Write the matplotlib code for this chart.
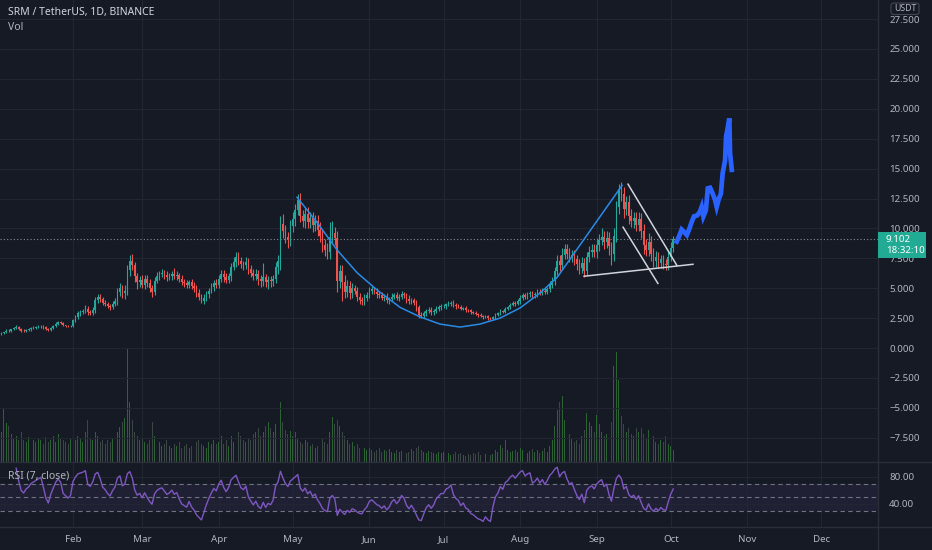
import datetime as dt
import numpy as np
import matplotlib
matplotlib.use('Agg')
import matplotlib.pyplot as plt
import matplotlib.dates as mdates
from matplotlib.patches import FancyBboxPatch, Rectangle
from matplotlib.lines import Line2D

plt.rcParams['font.family'] = ['Noto Sans', 'DejaVu Sans']

BG = '#161a25'
GRID = '#222631'
TXT = '#b2b5be'
UP = '#26a69a'
DOWN = '#ef5350'

# daily closes, 2021-01-02 .. 2021-10-02
close_jan = [1.15, 1.25, 1.3, 1.45, 1.4, 1.55, 1.65, 1.75, 1.6, 1.45, 1.4, 1.5, 1.55, 1.65, 1.7,
             1.75, 1.8, 1.85, 1.75, 1.6, 1.5, 1.65, 1.8, 2.0, 2.15, 2.1, 1.9, 1.85, 1.8, 1.85]
close_feb = [2.3, 2.6, 2.9, 3.0, 3.1, 3.3, 3.0, 2.95, 3.2, 4.0, 4.3, 4.1, 3.8, 3.7, 3.55, 3.45,
             3.7, 3.9, 4.7, 5.0, 4.6, 4.8, 6.5, 7.3, 6.9, 6.0, 5.5, 5.7]
close_mar = [5.3, 5.8, 5.4, 5.0, 4.7, 5.6, 6.0, 6.2, 6.3, 6.1, 5.9, 6.0, 6.2, 6.0, 6.1, 5.8,
             5.5, 5.4, 5.3, 5.5, 5.2, 5.0, 4.6, 4.3, 3.95, 4.2, 4.5, 4.8, 5.1, 5.4, 5.3]
close_apr = [5.8, 6.2, 5.9, 5.7, 6.0, 6.8, 7.2, 7.6, 7.3, 7.0, 6.9, 7.2, 6.6, 6.3, 6.0, 6.2,
             5.8, 5.6, 5.9, 5.5, 5.7, 5.6, 5.8, 6.8, 7.3, 10.4, 9.8, 9.3, 9.0, 10.2]
close_may = [10.8, 11.5, 12.4, 11.0, 10.6, 11.2, 10.5, 10.9, 10.3, 10.6, 9.9, 9.4, 8.6, 8.2, 8.0,
             9.3, 9.6, 9.2, 5.6, 6.4, 5.5, 4.7, 5.2, 4.6, 5.0, 4.8, 4.3, 4.0, 3.9, 4.2, 4.4]
close_jun = [4.8, 4.9, 4.7, 4.5, 4.4, 4.2, 4.3, 4.0, 4.1, 4.3, 4.4, 4.2, 4.3, 4.5, 4.4, 4.1,
             3.9, 4.0, 3.8, 3.4, 2.8, 2.7, 2.9, 3.1, 3.2, 3.0, 3.1, 3.3, 3.4, 3.5]
close_jul = [3.5, 3.65, 3.7, 3.8, 3.6, 3.5, 3.45, 3.3, 3.35, 3.2, 3.15, 3.0, 2.95, 2.85, 2.75,
             2.7, 2.6, 2.65, 2.5, 2.4, 2.6, 2.8, 2.9, 3.1, 3.05, 3.3, 3.4, 3.6, 3.75, 3.7, 3.9]
close_aug = [4.2, 4.4, 4.3, 4.5, 4.6, 4.4, 4.5, 4.7, 4.6, 4.8, 4.7, 4.9, 5.3, 5.6, 6.4, 7.3,
             6.9, 7.8, 8.3, 7.9, 7.6, 7.8, 7.4, 7.0, 6.7, 7.1, 6.4, 7.6, 8.0, 8.2, 8.0]
close_sep = [8.6, 9.0, 9.3, 8.9, 9.2, 8.5, 7.9, 9.4, 11.8, 13.3, 12.9, 11.6, 12.2, 11.0, 10.6,
             10.9, 10.3, 10.8, 9.8, 8.6, 8.2, 8.9, 7.9, 7.3, 7.6, 7.1, 7.4, 7.0, 6.9, 7.6]
close_oct = [8.4, 9.102]

# wick sizes above / below the body
wick_up = [.08, .1, .05, .12, .1, .08, .1, .15, .05, .08, .1, .06, .1, .08, .1, .06, .1, .08, .05, .1,
           .08, .1, .12, .15, .12, .08, .1, .06, .08, .1,
           .1, .15, .2, .15, .2, .3, .2, .15, .2, .3, .25, .2, .15, .2, .15, .1, .2, .25, .3, .4,
           .3, .5, .4, .5, .6, .3, .3, .3,
           .4, .3, .3, .4, .3, .3, .35, .2, .3, .2, .3, .25, .2, .5, .3, .2, .3, .25, .3, .2,
           .3, .3, .25, .3, .2, .3, .3, .25, .3, .3, .4,
           .3, .3, .3, .4, .3, .3, .4, .4, .4, .3, .3, .4, .3, .3, .3, .4, .3, .3, 1.2, .3,
           .3, .3, .3, .4, .5, .6, .8, .5, .4, .5,
           .6, .5, .5, .6, .5, .5, .6, .5, .5, .5, .5, .6, .5, .5, .6, 1.2, 1.0, .5, .6, .5,
           .5, .6, .5, .4, .4, .3, .3, .3, .3, .3, .3,
           .3, .3, .2, .3, .2, .3, .2, .3, .2, .3, .2, .3, .2, .3, .2, .2, .3, .2, .2, .2,
           .2, .2, .2, .2, .2, .2, .2, .2, .2, .2,
           .2, .15, .2, .15, .2, .15, .2, .15, .1, .15, .1, .15, .1, .15, .1, .15, .1, .1, .15, .1,
           .1, .15, .1, .15, .1, .15, .1, .15, .2, .15, .2,
           .2, .2, .2, .2, .2, .2, .2, .2, .2, .2, .2, .2, .3, .3, .4, .5, .5, .6, .4, .4,
           .5, .4, .4, .4, .4, .5, .4, .4, .5, .5, .5,
           .6, .5, .7, .5, .6, .5, .4, .6, .5, .4, .6, .6, .5, .6, .6, .5, .5, .6, .5, .6,
           .5, .7, .5, .5, .5, .4, .4, .4, .4, .5,
           .5, .3]
wick_dn = [.05, .08, .1, .06, .1, .08, .06, .1, .12, .1, .08, .06, .08, .1, .06, .08, .05, .1, .12, .1,
           .08, .06, .1, .08, .1, .12, .1, .08, .06, .08,
           .1, .1, .15, .2, .15, .2, .25, .15, .2, .3, .2, .25, .2, .15, .2, .25, .15, .2, .3, .35,
           .4, .5, .4, .5, .4, .5, .6, .4,
           .3, .4, .3, .3, .4, .3, .2, .3, .25, .3, .3, .2, .3, .25, .3, .3, .2, .3, .25, .3,
           .3, .35, .3, .3, .2, .3, .25, .3, .2, .3, .3,
           .3, .3, .4, .3, .3, .4, .3, .4, .4, .3, .4, .3, .4, .4, .3, .3, .5, .5, .4, .4,
           .6, .5, .4, .4, .6, .8, .6, .5, .6, .5,
           .5, .6, .4, .5, .5, .6, .5, .5, .6, .5, .5, .5, .6, .5, .6, .6, .5, .6, .9, .6,
           1.6, .5, .4, .5, .4, .3, .4, .3, .3, .3, .3,
           .2, .3, .2, .3, .2, .2, .3, .2, .3, .2, .2, .2, .3, .2, .2, .3, .2, .2, .2, .3,
           .3, .2, .2, .2, .2, .2, .2, .2, .2, .2,
           .15, .2, .15, .2, .15, .2, .1, .15, .1, .15, .1, .15, .1, .1, .15, .1, .15, .1, .15, .1,
           .1, .15, .1, .1, .15, .1, .15, .1, .1, .15, .1,
           .2, .2, .2, .2, .2, .2, .2, .2, .2, .2, .2, .2, .2, .3, .3, .3, .5, .4, .4, .5,
           .4, .4, .5, .5, .5, .4, .5, .3, .4, .4, .4,
           .5, .5, .4, .6, .5, .7, 1.0, .6, .5, .6, .6, .7, .5, .6, .5, .6, .5, .5, .6, .7,
           .5, .5, .6, .5, .5, .4, .4, .4, .4, .4,
           .3, .4]

# volume (arbitrary units)
volume = [46, 30, 54, 39, 36, 28, 24, 26, 22, 30, 22, 20, 25, 18, 22, 20, 24, 22, 18, 25,
          20, 22, 26, 20, 28, 24, 22, 20, 18, 24,
          36, 22, 26, 24, 20, 30, 42, 24, 22, 30, 26, 20, 22, 18, 22, 20, 24, 22, 30, 35,
          40, 44, 114, 60, 42, 30, 26, 22,
          24, 20, 18, 22, 40, 26, 18, 20, 16, 18, 22, 16, 14, 18, 16, 20, 14, 16, 18, 14,
          16, 18, 20, 22, 18, 16, 14, 20, 18, 22, 18,
          20, 26, 18, 22, 16, 26, 20, 24, 30, 26, 22, 20, 24, 22, 28, 30, 34, 26, 30, 36,
          40, 34, 30, 38, 115, 60, 40, 32, 28, 31,
          26, 30, 24, 20, 18, 22, 20, 16, 18, 14, 16, 22, 24, 20, 18, 30, 45, 38, 42, 36,
          30, 26, 22, 18, 20, 16, 18, 14, 16, 14, 12,
          14, 12, 10, 12, 14, 10, 12, 11, 13, 10, 9, 12, 10, 11, 12, 9, 10, 13, 11, 14,
          16, 12, 10, 9, 11, 10, 9, 8, 10, 9,
          10, 8, 9, 7, 8, 10, 8, 9, 7, 6, 8, 7, 9, 8, 10, 7, 6, 8, 9, 7,
          8, 12, 10, 17, 14, 22, 12, 10, 11, 12, 10,
          14, 12, 10, 9, 11, 13, 10, 12, 9, 11, 14, 10, 16, 22, 36, 52, 60, 66, 42, 34,
          28, 24, 20, 22, 18, 26, 32, 49, 40, 36, 30,
          47, 38, 30, 26, 28, 22, 40, 96, 110, 82, 46, 38, 30, 34, 28, 26, 34, 30, 34, 28,
          24, 32, 22, 26, 20, 18, 22, 20, 26, 18,
          16, 12]

first_open = 1.1
last_price = 9.102

# drawings, x as days after 2021-02-01
cup_days = [90.7, 98.8, 106.9, 115.0, 123.1, 132.4, 140.5, 148.6, 156.7, 164.8, 172.9, 181.0,
            189.1, 196.0, 222.3]
cup_price = [12.6, 10.5, 8.2, 6.3, 4.85, 3.4, 2.6, 2.0, 1.75, 2.0, 2.5, 3.35, 4.6, 5.9, 13.6]
white_lines = [((224.7, 13.7), (244.5, 6.9)),
               ((222.7, 10.1), (236.8, 5.4)),
               ((206.9, 6.0), (251.0, 7.0))]
path_days = [244.4, 245.5, 246.4, 247.4, 248.5, 249.4, 250.5, 251.4, 252.8, 253.8, 254.5, 255.2,
             256.2, 257.0, 257.9, 259.0, 259.9, 260.6, 261.5, 262.3, 263.0, 264.0, 264.4, 264.9,
             265.7, 266.0, 266.7]
path_price = [8.9, 9.4, 9.9, 9.7, 9.45, 9.9, 10.55, 11.0, 11.1, 11.4, 11.8, 11.0, 11.5, 13.35,
              13.4, 12.9, 12.4, 11.8, 12.5, 12.9, 14.6, 15.7, 17.7, 18.2, 19.2, 16.3, 14.9]

closes = np.array(close_jan + close_feb + close_mar + close_apr + close_may + close_jun +
                  close_jul + close_aug + close_sep + close_oct)
opens = np.concatenate([[first_open], closes[:-1]])
highs = np.maximum(opens, closes) + np.array(wick_up)
lows = np.minimum(opens, closes) - np.array(wick_dn)
days = mdates.date2num(dt.date(2021, 1, 2)) + np.arange(len(closes))
feb1 = mdates.date2num(dt.date(2021, 2, 1))
up = closes >= opens
cols = np.where(up, UP, DOWN)


def rsi(c, n=7):
    d = np.diff(c)
    g = np.where(d > 0, d, 0.0)
    l = np.where(d < 0, -d, 0.0)
    out = np.full(len(c), np.nan)
    ag, al = g[:n].mean(), l[:n].mean()
    out[n] = 100 - 100 / (1 + ag / al)
    for i in range(n, len(d)):
        ag = (ag * (n - 1) + g[i]) / n
        al = (al * (n - 1) + l[i]) / n
        out[i + 1] = 100 - 100 / (1 + ag / al) if al > 0 else 100
    return out


W, H = 932, 550
fig = plt.figure(figsize=(9.32, 5.5), dpi=100, facecolor=BG)
xl = (feb1 - 29.55, feb1 + 325.9)
months = [mdates.date2num(dt.date(2021, m, 1)) for m in range(2, 13)]

# main pane
axv = fig.add_axes([0, 88 / H, 878 / W, 462 / H])
ax = fig.add_axes([0, 88 / H, 878 / W, 462 / H], sharex=axv)
ax.set_zorder(axv.get_zorder() + 1)
ax.patch.set_visible(False)
axv.set_facecolor(BG)
axv.bar(days, volume, width=0.38, color=np.where(up, '#2c6234', '#3a4744'), zorder=2)
axv.set_ylim(0, max(volume) * 462 / 115)
axv.set_yticks([])
axv.set_xticks(months)
axv.grid(axis='x', color=GRID, lw=0.8)
axv.tick_params(bottom=False, labelbottom=False, left=False)

ax.vlines(days, lows, highs, colors=cols, lw=0.8, zorder=3)
ax.bar(days, np.maximum(np.abs(closes - opens), 0.04), bottom=np.minimum(opens, closes),
       width=0.66, color=cols, zorder=4)
ax.set_xlim(*xl)
ax.set_ylim((348 - 462) / 11.96, 348 / 11.96)
ax.set_yticks(np.arange(-7.5, 27.6, 2.5))
ax.yaxis.set_major_formatter(lambda v, p: f'{v:.3f}'.replace('-', '\u2212'))
ax.yaxis.tick_right()
ax.tick_params(axis='y', length=0, pad=8, labelcolor=TXT, labelsize=7)
ax.tick_params(axis='x', bottom=False, labelbottom=False)
ax.grid(axis='y', color=GRID, lw=0.8)
for a in (ax, axv):
    for s in a.spines.values():
        s.set_visible(False)

ax.axhline(last_price, color='#8a8d97', lw=0.8, ls=(0, (1, 2)), zorder=2)
ax.plot(feb1 + np.array(cup_days), cup_price, color='#2a8be6', lw=1.1, zorder=5)
for (d0, p0), (d1, p1) in white_lines:
    ax.plot([feb1 + d0, feb1 + d1], [p0, p1], color='#d1d4dc', lw=1.1, zorder=5)
ax.plot(feb1 + np.array(path_days), path_price, color='#2962ff', lw=3.4, zorder=5,
        solid_joinstyle='miter')

# RSI pane
ar = fig.add_axes([0, 23 / H, 878 / W, 65 / H], sharex=axv)
ar.set_facecolor(BG)
ar.axhspan(30, 70, color='#7e57c2', alpha=0.1, lw=0)
for lv in (70, 50, 30):
    ar.axhline(lv, color='#6f7280', lw=0.8, ls=(0, (4, 3)))
ar.plot(days, rsi(closes), color='#7e57c2', lw=1.0)
ar.set_ylim(6, 102)
ar.set_xlim(*xl)
ar.set_yticks([40, 80])
ar.set_yticklabels(['40.00', '80.00'])
ar.yaxis.tick_right()
ar.set_xticks(months)
ar.xaxis.set_major_formatter(mdates.DateFormatter('%b'))
ar.tick_params(axis='y', length=0, pad=8, labelcolor=TXT, labelsize=7)
ar.tick_params(axis='x', length=0, pad=6, labelcolor=TXT, labelsize=7)
ar.grid(color=GRID, lw=0.8)
for s in ar.spines.values():
    s.set_visible(False)

# separators
for y in (462, 527):
    fig.add_artist(Line2D([0, 1], [1 - y / H, 1 - y / H], color='#2a2e39', lw=1))
fig.add_artist(Line2D([878 / W, 878 / W], [0, 1], color='#2a2e39', lw=1))

# labels
fig.text(8 / W, 1 - 13 / H, 'SRM / TetherUS, 1D, BINANCE', color='#d1d4dc', fontsize=7.5,
         fontweight='semibold', va='center')
fig.text(8 / W, 1 - 27 / H, 'Vol', color=TXT, fontsize=7.5, va='center')
fig.text(8 / W, 1 - 476 / H, 'RSI (7, close)', color=TXT, fontsize=7.5, va='center', zorder=10)

fig.add_artist(FancyBboxPatch((891 / W, 1 - 14.5 / H), 28 / W, 11.5 / H,
                              boxstyle='round,pad=0,rounding_size=0.004',
                              fc=BG, ec='#434651', lw=0.8, transform=fig.transFigure, zorder=10))
fig.text(905 / W, 1 - 8.8 / H, 'USDT', color=TXT, fontsize=6.3, ha='center', va='center', zorder=11)

fig.add_artist(Rectangle((878 / W, 1 - 258 / H), 48 / W, 26 / H, fc='#22ab94', ec='none',
                         transform=fig.transFigure, zorder=10))
fig.text(886 / W, 1 - 239 / H, f'{last_price:.3f}', color='white', fontsize=7,
         fontweight='bold', va='center', zorder=11)
fig.text(886 / W, 1 - 251 / H, '18:32:10', color='white', fontsize=7, va='center', zorder=11)

fig.savefig('out.png', dpi=100, facecolor=BG)
